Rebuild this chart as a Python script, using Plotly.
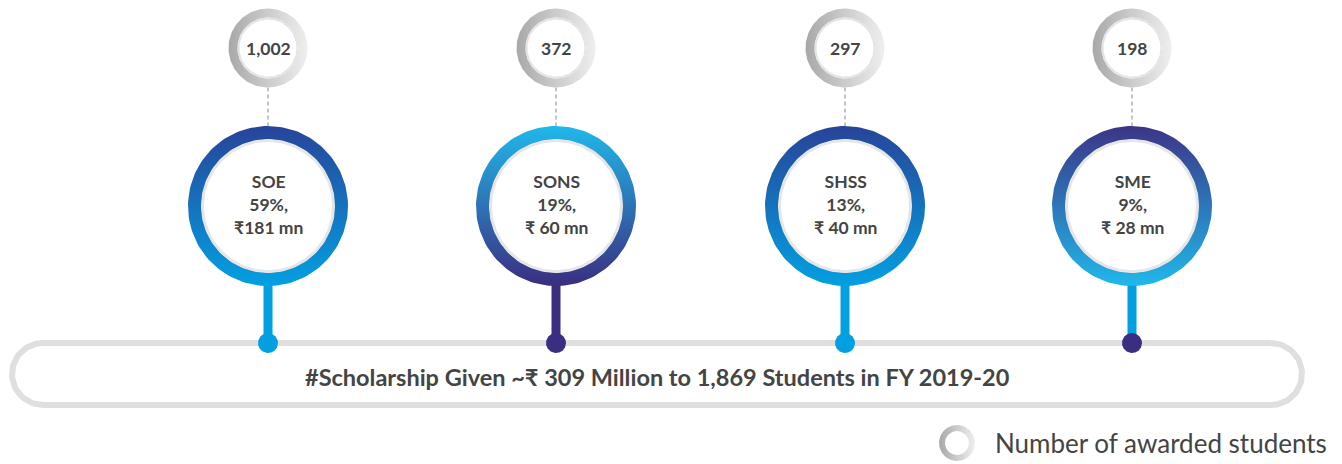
import numpy as np
import plotly.graph_objects as go

# ---------------- data ----------------
schools = ["SOE", "SONS", "SHSS", "SME"]
share_pct = [59, 19, 13, 9]
amount_mn = ["₹181 mn", "₹ 60 mn", "₹ 40 mn", "₹ 28 mn"]
students = ["1,002", "372", "297", "198"]
title_text = "#Scholarship Given ~₹ 309 Million to 1,869 Students in FY 2019-20"
legend_text = "Number of awarded students"

# ---------------- styling / layout ----------------
W, H = 1342, 464
centers_x = [268, 556, 845, 1132]
ring_top = [("#27449a", "#03a0e1"), ("#20b8ea", "#3a2e80"),
            ("#27449a", "#03a0e1"), ("#3b3587", "#20b8ea")]
stem_col = ["#03a0e1", "#3a2e80", "#03a0e1", "#03a0e1"]
dot_col = ["#03a0e1", "#3a2e80", "#03a0e1", "#3a2e80"]
TXT = "#444444"
FONT = "Lato, 'Noto Sans', sans-serif"

BIG_CY, BIG_RO, BIG_RI = 206, 80, 66.5
SM_CY, SM_RO, SM_RI = 48, 39.5, 30.5
DOT_Y, DOT_R = 343, 10

def circ(cx, cy, r, n=160, rev=False):
    t = np.linspace(0, 2 * np.pi, n)
    if rev:
        t = t[::-1]
    return cx + r * np.cos(t), cy + r * np.sin(t)

def ring_xy(cx, cy, ro, ri):
    xo, yo = circ(cx, cy, ro)
    xi, yi = circ(cx, cy, ri, rev=True)
    return np.concatenate([xo, xi]), np.concatenate([yo, yi])

fig = go.Figure()

# pill outline
px0, px1, py0, py1 = 12, 1302, 343, 405
pr = (py1 - py0) / 2
ta = np.linspace(-np.pi / 2, np.pi / 2, 60)
right_x = px1 - pr + pr * np.cos(ta)
right_y = (py0 + py1) / 2 + pr * np.sin(ta)
tb = np.linspace(np.pi / 2, 3 * np.pi / 2, 60)
left_x = px0 + pr + pr * np.cos(tb)
left_y = (py0 + py1) / 2 + pr * np.sin(tb)
pill_x = np.concatenate([right_x, left_x, right_x[:1]])
pill_y = np.concatenate([right_y, left_y, right_y[:1]])
fig.add_trace(go.Scatter(x=pill_x, y=pill_y, mode="lines",
                         line=dict(color="#dedfdf", width=6), hoverinfo="skip"))

for i, cx in enumerate(centers_x):
    # dashed connector
    fig.add_trace(go.Scatter(x=[cx, cx], y=[SM_CY + SM_RO, BIG_CY - BIG_RO], mode="lines",
                             line=dict(color="#c4c4c4", width=2, dash="4px,3px"), hoverinfo="skip"))
    # stem
    fig.add_trace(go.Scatter(x=[cx, cx], y=[BIG_CY + BIG_RO - 4, DOT_Y], mode="lines",
                             line=dict(color=stem_col[i], width=9), hoverinfo="skip"))
    # dot
    dx, dy = circ(cx, DOT_Y, DOT_R)
    fig.add_trace(go.Scatter(x=dx, y=dy, mode="lines", fill="toself", fillcolor=dot_col[i],
                             line=dict(width=0), hoverinfo="skip"))
    # big gradient ring
    rx, ry = ring_xy(cx, BIG_CY, BIG_RO, BIG_RI)
    top_c, bot_c = ring_top[i]
    fig.add_trace(go.Scatter(x=rx, y=ry, mode="lines", fill="toself", line=dict(width=0),
                             fillgradient=dict(type="vertical",
                                               colorscale=[[0, top_c], [1, bot_c]],
                                               start=BIG_CY - BIG_RO, stop=BIG_CY + BIG_RO),
                             hoverinfo="skip"))
    ex, ey = circ(cx, BIG_CY, BIG_RI - 1)
    fig.add_trace(go.Scatter(x=ex, y=ey, mode="lines", line=dict(color="#e6e6e6", width=3),
                             hoverinfo="skip"))
    # small gray ring
    sx, sy = ring_xy(cx, SM_CY, SM_RO, SM_RI)
    fig.add_trace(go.Scatter(x=sx, y=sy, mode="lines", fill="toself", line=dict(width=0),
                             fillgradient=dict(type="horizontal",
                                               colorscale=[[0, "#a8a8a8"], [1, "#efefef"]],
                                               start=cx - SM_RO, stop=cx + SM_RO),
                             hoverinfo="skip"))
    ix, iy = circ(cx, SM_CY, SM_RI - 1)
    fig.add_trace(go.Scatter(x=ix, y=iy, mode="lines", line=dict(color="#e4e4e4", width=2),
                             hoverinfo="skip"))
    # texts
    fig.add_annotation(x=cx, y=BIG_CY - 2, xref="x", yref="y", showarrow=False,
                       text=f"<b>{schools[i]}<br>{share_pct[i]}%,<br>{amount_mn[i]}</b>",
                       font=dict(family=FONT, size=17.5, color=TXT), align="center")
    fig.add_annotation(x=cx, y=SM_CY, xref="x", yref="y", showarrow=False,
                       text=f"<b>{students[i]}</b>",
                       font=dict(family=FONT, size=17.5, color=TXT))

# legend ring
lx, ly = 957, 443
gx, gy = ring_xy(lx, ly, 18, 12)
fig.add_trace(go.Scatter(x=gx, y=gy, mode="lines", fill="toself", line=dict(width=0),
                         fillgradient=dict(type="horizontal",
                                           colorscale=[[0, "#a8a8a8"], [1, "#efefef"]],
                                           start=lx - 18, stop=lx + 18),
                         hoverinfo="skip"))
fig.add_annotation(x=993, y=ly, xref="x", yref="y", showarrow=False, xanchor="left",
                   text=legend_text, font=dict(family=FONT, size=26, color=TXT))

fig.add_annotation(x=657, y=377, xref="x", yref="y", showarrow=False,
                   text=f"<b>{title_text}</b>", font=dict(family=FONT, size=23.5, color=TXT))

fig.update_layout(width=W, height=H, autosize=False, showlegend=False,
                  margin=dict(l=0, r=0, t=0, b=0),
                  paper_bgcolor="white", plot_bgcolor="white",
                  xaxis=dict(range=[0, W], visible=False, fixedrange=True),
                  yaxis=dict(range=[H, 0], visible=False, fixedrange=True))
fig.write_html("out.html", config={"displayModeBar": False},
               post_script="document.body.style.margin='0';document.body.style.overflow='hidden';")
